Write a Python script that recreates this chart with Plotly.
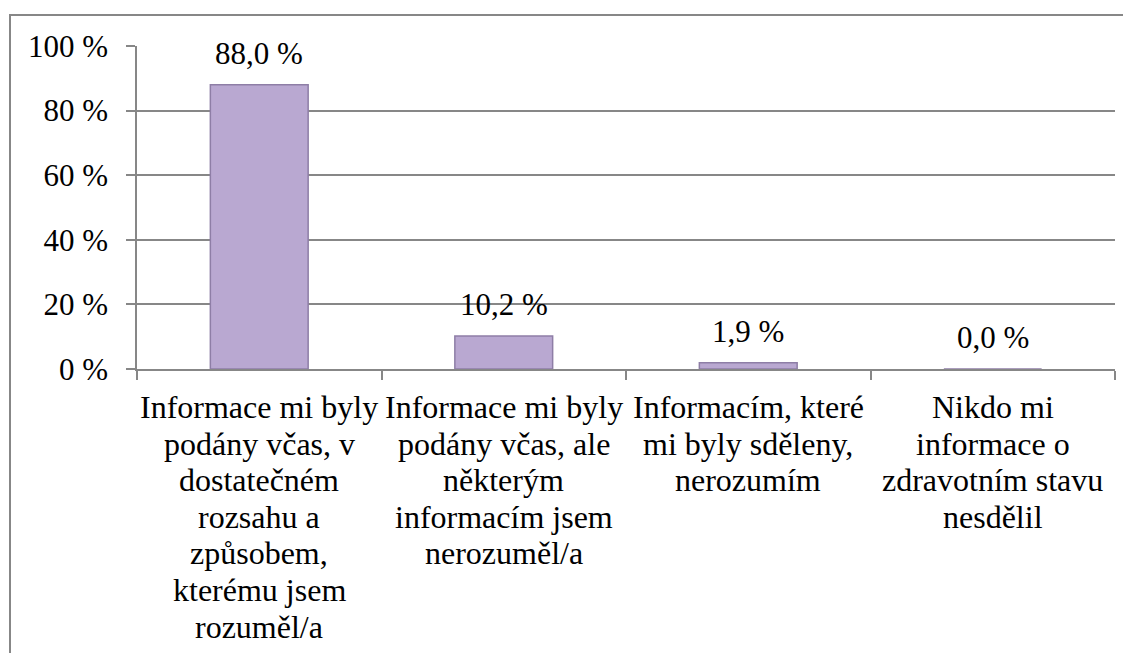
import plotly.graph_objects as go

category_lines = [
    ["Informace mi byly", "podány včas, v", "dostatečném", "rozsahu a",
     "způsobem,", "kterému jsem", "rozuměl/a"],
    ["Informace mi byly", "podány včas, ale", "některým", "informacím jsem",
     "nerozuměl/a"],
    ["Informacím, které", "mi byly sděleny,", "nerozumím"],
    ["Nikdo mi", "informace o", "zdravotním stavu", "nesdělil"],
]
categories = [" ".join(lines) for lines in category_lines]
values = [88.0, 10.2, 1.9, 0.0]
y_tick_vals = [0, 20, 40, 60, 80, 100]
y_tick_text = ["0 %", "20 %", "40 %", "60 %", "80 %", "100 %"]

# page body has an 8px margin, so the figure is drawn 8px smaller
OFF = 8
W, H = 1131 - OFF, 653 - OFF
L, T = 137 - OFF, 46 - OFF
PR, PB = 1115 - OFF, 369 - OFF
R, B = W - PR, H - PB
pw, ph = PR - L, PB - T

FONT = "Liberation Serif, Times New Roman, serif"
GRAY = "#878787"

fig = go.Figure()
fig.add_trace(go.Bar(
    x=categories, y=values,
    marker=dict(color="#B9A8D1", line=dict(color="#8E7EA6", width=1.5)),
    hoverinfo="skip",
))

# data labels
for c, v in zip(categories, values):
    fig.add_annotation(
        x=c, y=v, xref="x", yref="y",
        text=f"{v:.1f}".replace(".", ",") + " %",
        showarrow=False, yanchor="bottom", yshift=12,
        font=dict(family=FONT, size=31, color="black"),
    )

# category labels, one line each (tighter line spacing than plotly's default)
LINE = 36.6
for c, lines in zip(categories, category_lines):
    for i, ln in enumerate(lines):
        fig.add_annotation(
            x=c, y=0, xref="x", yref="y", text=ln, showarrow=False,
            yanchor="middle", yshift=-(38.0 + i * LINE),
            font=dict(family=FONT, size=32, color="black"),
        )

# chart frame
fig.add_shape(
    type="rect", xref="paper", yref="paper",
    x0=(10 - OFF - L) / pw, x1=(W + 20 - L) / pw,
    y0=-(H + 20 - PB) / ph, y1=(PB - (15 - OFF)) / ph,
    line=dict(color=GRAY, width=2), fillcolor="rgba(0,0,0,0)",
)

fig.update_layout(
    width=W, height=H,
    margin=dict(l=L, r=R, t=T, b=B, pad=0),
    paper_bgcolor="white", plot_bgcolor="white",
    bargap=0.6, showlegend=False,
    font=dict(family=FONT, size=30, color="black"),
)
fig.update_xaxes(
    type="category", tickson="boundaries", ticks="outside", ticklen=9,
    tickcolor=GRAY, tickwidth=1.5, showline=True, linecolor=GRAY, linewidth=1.5,
    showgrid=False, showticklabels=False,
)
fig.update_yaxes(
    range=[0, 100], tickvals=y_tick_vals, ticktext=y_tick_text,
    ticks="outside", ticklen=9, tickcolor=GRAY, tickwidth=1.5,
    showline=True, linecolor=GRAY, linewidth=1.5,
    showgrid=True, gridcolor=GRAY, gridwidth=1.5, zeroline=False,
    tickfont=dict(family=FONT, size=31, color="black"),
    ticklabelstandoff=12,
)

fig.write_html("out.html")
